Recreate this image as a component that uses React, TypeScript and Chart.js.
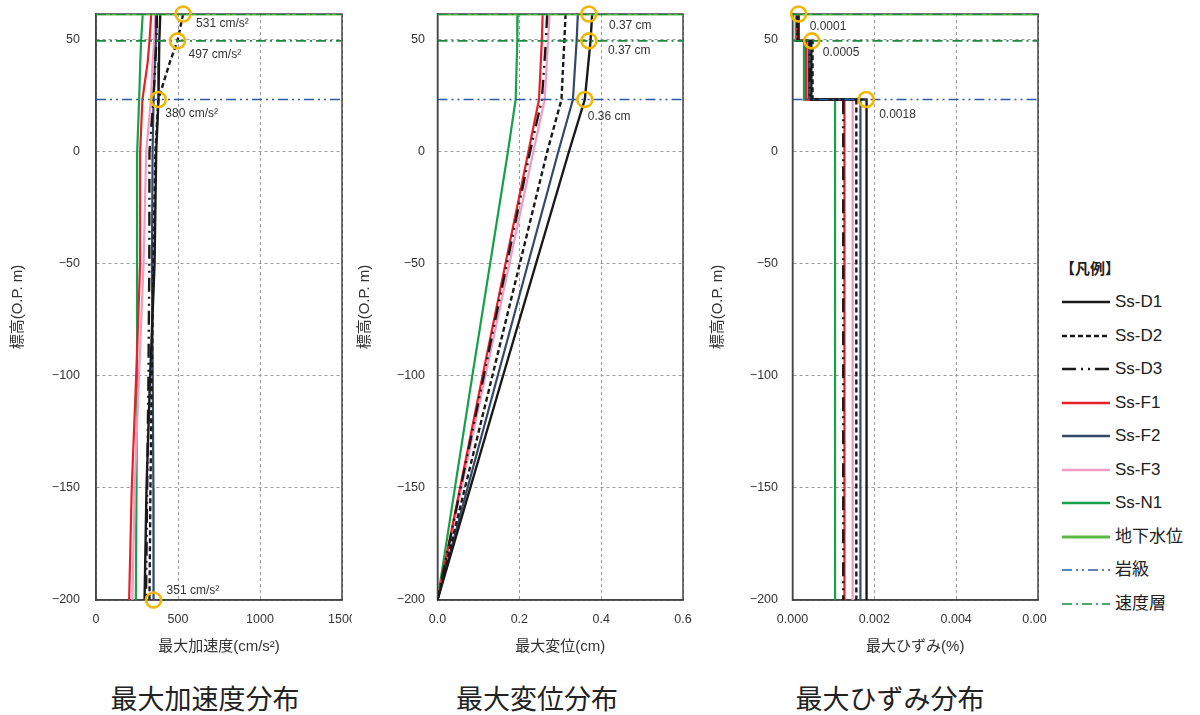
import React, { useEffect, useRef } from "react";
import { Chart, registerables } from "chart.js";

Chart.register(...registerables);

// ---------------- DATA ----------------
const ELEV_MAX = 61.6;
const ELEV_MIN = -200;
const GROUND_WATER = [61.6];
const ROCK_BOUNDARY = [23.4];
const VELOCITY_LAYERS = [61.6, 49.6];

const SERIES_NAMES = ["Ss-D1", "Ss-D2", "Ss-D3", "Ss-F1", "Ss-F2", "Ss-F3", "Ss-N1"];
const REF_NAMES = ["地下水位", "岩級", "速度層"];

// Max acceleration (cm/s2) by elevation
const ACC_ELEV = [61.6, 49.6, 40, 23.4, 0, -50, -100, -150, -200];
const ACC_D1 = [392, 386, 384, 381, 367, 357, 330, 308, 296];
const ACC_D2 = [531, 497, 450, 380, 362, 350, 340, 332, 326];
const ACC_D3 = [372, 368, 362, 350, 326, 325, 320, 312, 305];
const ACC_F1 = [337, 326, 315, 283, 269, 269, 245, 218, 202];
const ACC_F2 = [371, 366, 360, 351, 345, 341, 346, 350, 351];
const ACC_F3 = [363, 355, 345, 335, 306, 290, 262, 236, 222];
const ACC_N1 = [285, 275, 270, 263, 251, 251, 250, 247, 243];

// Max displacement (cm) by elevation
const DISP_ELEV = [61.6, 49.6, 23.4, 0, -100, -200];
const DISP_D1 = [0.378, 0.374, 0.36, 0.321, 0.16, 0];
const DISP_D2 = [0.313, 0.31, 0.303, 0.268, 0.134, 0];
const DISP_D3 = [0.268, 0.265, 0.255, 0.226, 0.113, 0];
const DISP_F1 = [0.257, 0.255, 0.248, 0.222, 0.11, 0];
const DISP_F2 = [0.343, 0.34, 0.331, 0.295, 0.147, 0];
const DISP_F3 = [0.274, 0.27, 0.262, 0.234, 0.117, 0];
const DISP_N1 = [0.196, 0.195, 0.191, 0.172, 0.085, 0];

// Max strain (%) per layer (layer tops), constant down to ELEV_MIN in last layer
const STRAIN_LAYER_TOPS = [61.6, 49.6, 23.4];
const STRAIN_D1 = [0.00015, 0.00046, 0.00181];
const STRAIN_D2 = [0.00013, 0.00049, 0.00156];
const STRAIN_D3 = [0.00012, 0.00042, 0.00124];
const STRAIN_F1 = [0.0001, 0.00033, 0.00127];
const STRAIN_F2 = [0.00011, 0.0004, 0.00166];
const STRAIN_F3 = [0.0001, 0.00036, 0.00147];
const STRAIN_N1 = [0.00008, 0.00028, 0.00104];

// Highlighted maxima
const ACC_MAX_X = [531, 497, 380, 351];
const ACC_MAX_Y = [61.6, 49.6, 23.4, -200];
const ACC_MAX_LABELS = ["531 cm/s²", "497 cm/s²", "380 cm/s²", "351 cm/s²"];
const DISP_MAX_X = [0.37, 0.37, 0.36];
const DISP_MAX_Y = [61.6, 49.6, 23.4];
const DISP_MAX_LABELS = ["0.37 cm", "0.37 cm", "0.36 cm"];
const STRAIN_MAX_X = [0.00015, 0.00047, 0.0018];
const STRAIN_MAX_Y = [61.6, 49.6, 23.4];
const STRAIN_MAX_LABELS = ["0.0001", "0.0005", "0.0018"];

const Y_TICKS_STEP = 50;

// ---------------- STYLES ----------------
const FONT = "'Liberation Sans', 'Noto Sans CJK JP', sans-serif";
const CJK_FONT = "'Noto Sans CJK JP', 'Liberation Sans', sans-serif";
const SERIES_STYLES = [
  { color: "#1a1a1a", width: 2.4, dash: [] as number[] },
  { color: "#1a1a1a", width: 2.4, dash: [5, 3] },
  { color: "#1a1a1a", width: 2.4, dash: [14, 5, 2, 5, 2, 5] },
  { color: "#e8202a", width: 2.2, dash: [] as number[] },
  { color: "#34496a", width: 2.2, dash: [] as number[] },
  { color: "#f29ac2", width: 2.2, dash: [] as number[] },
  { color: "#17a04a", width: 2.2, dash: [] as number[] },
];
const REF_STYLES = [
  { color: "#5cb946", width: 3, dash: [] as number[] },
  { color: "#2b5aa8", width: 1.5, dash: [10, 4, 2, 4, 2, 4] },
  { color: "#1b8a3e", width: 1.8, dash: [10, 4, 2, 4] },
];
const MARK_COLOR = "#f2b705";

type Ann = { x: number; y: number; label: string; dx: number; dy: number };

function buildAnn(xs: number[], ys: number[], labels: string[], offsets: number[][]): Ann[] {
  return xs.map((x, i) => ({ x, y: ys[i], label: labels[i], dx: offsets[i][0], dy: offsets[i][1] }));
}

function profileDatasets(elev: number[], series: number[][]) {
  return series.map((vals, i) => ({
    label: SERIES_NAMES[i],
    data: vals.map((v, j) => ({ x: v, y: elev[j] })),
    borderColor: SERIES_STYLES[i].color,
    borderWidth: SERIES_STYLES[i].width,
    borderDash: SERIES_STYLES[i].dash,
    pointRadius: 0,
    tension: 0,
    fill: false,
  }));
}

function stepDatasets(tops: number[], series: number[][]) {
  return series.map((vals, i) => ({
    label: SERIES_NAMES[i],
    data: [
      ...vals.map((v, j) => ({ x: v, y: tops[j] })),
      { x: vals[vals.length - 1], y: ELEV_MIN },
    ],
    borderColor: SERIES_STYLES[i].color,
    borderWidth: SERIES_STYLES[i].width,
    borderDash: SERIES_STYLES[i].dash,
    pointRadius: 0,
    stepped: "after",
    fill: false,
  }));
}

function refDatasets(xMin: number, xMax: number) {
  const groups = [GROUND_WATER, ROCK_BOUNDARY, VELOCITY_LAYERS];
  const out: any[] = [];
  groups.forEach((levels, g) => {
    levels.forEach((y) => {
      out.push({
        label: REF_NAMES[g],
        data: [{ x: xMin, y }, { x: xMax, y }],
        borderColor: REF_STYLES[g].color,
        borderWidth: REF_STYLES[g].width,
        borderDash: REF_STYLES[g].dash,
        pointRadius: 0,
        fill: false,
      });
    });
  });
  return out.reverse();
}

type PanelDef = {
  left: number;
  canvasW: number;
  clipW: number;
  yAxisW: number;
  chartRight: number;
  yTickGap: number;
  yTitleOffset: number;
  xMin: number;
  xMax: number;
  xStep: number;
  xDecimals: number;
  xTitle: string;
  title: string;
  titleCenter: number;
  datasets: any[];
  ann: Ann[];
};

const CANVAS_H = 665;
const PAD_TOP = 14;
const X_AXIS_H = 65;

const PANELS: PanelDef[] = [
  {
    left: 0, canvasW: 380, clipW: 352, yAxisW: 96, chartRight: 342, yTickGap: 16, yTitleOffset: 18,
    xMin: 0, xMax: 1500, xStep: 500, xDecimals: 0,
    xTitle: "最大加速度(cm/s²)", title: "最大加速度分布", titleCenter: 205,
    datasets: profileDatasets(ACC_ELEV, [ACC_D1, ACC_D2, ACC_D3, ACC_F1, ACC_F2, ACC_F3, ACC_N1]),
    ann: buildAnn(ACC_MAX_X, ACC_MAX_Y, ACC_MAX_LABELS, [[13, 10], [11, 14], [7, 14], [13, -9]]),
  },
  {
    left: 350, canvasW: 360, clipW: 360, yAxisW: 87.5, chartRight: 683, yTickGap: 12.5, yTitleOffset: 15,
    xMin: 0, xMax: 0.6, xStep: 0.2, xDecimals: 1,
    xTitle: "最大変位(cm)", title: "最大変位分布", titleCenter: 537,
    datasets: profileDatasets(DISP_ELEV, [DISP_D1, DISP_D2, DISP_D3, DISP_F1, DISP_F2, DISP_F3, DISP_N1]),
    ann: buildAnn(DISP_MAX_X, DISP_MAX_Y, DISP_MAX_LABELS, [[20, 12], [19, 10], [3, 17]]),
  },
  {
    left: 700, canvasW: 380, clipW: 347, yAxisW: 92.5, chartRight: 1038, yTickGap: 14.5, yTitleOffset: 18,
    xMin: 0, xMax: 0.006, xStep: 0.002, xDecimals: 3,
    xTitle: "最大ひずみ(%)", title: "最大ひずみ分布", titleCenter: 890,
    datasets: stepDatasets(STRAIN_LAYER_TOPS, [STRAIN_D1, STRAIN_D2, STRAIN_D3, STRAIN_F1, STRAIN_F2, STRAIN_F3, STRAIN_N1]),
    ann: buildAnn(STRAIN_MAX_X, STRAIN_MAX_Y, STRAIN_MAX_LABELS, [[11, 13], [11, 12], [13, 15]]),
  },
];

const framePlugin = {
  id: "frame",
  beforeDatasetsDraw(chart: any) {
    const { ctx, chartArea } = chart;
    ctx.save();
    ctx.strokeStyle = "#444";
    ctx.lineWidth = 1.5;
    ctx.strokeRect(chartArea.left, chartArea.top, chartArea.right - chartArea.left, chartArea.bottom - chartArea.top);
    ctx.restore();
  },
};

function PanelChart({ def }: { def: PanelDef }) {
  const ref = useRef<HTMLCanvasElement | null>(null);
  useEffect(() => {
    if (!ref.current) return;
    const ann = def.ann;
    const labelPlugin = {
      id: "annLabels",
      afterDatasetsDraw(chart: any) {
        const { ctx, scales } = chart;
        ctx.save();
        ctx.font = `12px ${FONT}`;
        ctx.fillStyle = "#333";
        ctx.textAlign = "left";
        ctx.textBaseline = "middle";
        ann.forEach((a) => {
          const px = scales.x.getPixelForValue(a.x);
          const py = scales.y.getPixelForValue(a.y);
          ctx.fillText(a.label, px + a.dx, py + a.dy);
        });
        ctx.restore();
      },
    };
    const markers = {
      label: "max",
      data: ann.map((a) => ({ x: a.x, y: a.y })),
      showLine: false,
      pointRadius: 7.5,
      pointHoverRadius: 7.5,
      pointBorderWidth: 2.6,
      pointBorderColor: MARK_COLOR,
      pointBackgroundColor: "rgba(0,0,0,0)",
      clip: false,
    };
    const padRight = def.canvasW - (def.chartRight - def.left);
    const chart = new Chart(ref.current, {
      type: "line",
      data: { datasets: [markers, ...refDatasets(def.xMin, def.xMax), ...def.datasets] as any },
      options: {
        animation: false,
        responsive: false,
        events: [],
        layout: { padding: { left: 0, top: PAD_TOP, right: padRight, bottom: 0 } },
        plugins: { legend: { display: false }, tooltip: { enabled: false } },
        scales: {
          x: {
            type: "linear",
            min: def.xMin,
            max: def.xMax,
            afterFit: (s: any) => { s.height = X_AXIS_H; },
            ticks: {
              stepSize: def.xStep,
              includeBounds: false,
              padding: 0,
              color: "#333",
              font: { family: FONT, size: 12.5 },
              callback: (v: any) => Number(v).toFixed(def.xDecimals),
            },
            grid: { color: "#9a9a9a", lineWidth: 1, drawTicks: true, tickLength: 12.5, tickColor: "rgba(0,0,0,0)" },
            border: { display: true, color: "#444", width: 1.5, dash: [3, 3] },
            title: { display: true, text: def.xTitle, color: "#333", font: { family: FONT, size: 15 }, padding: { top: 0, bottom: 9 } },
          },
          y: {
            type: "linear",
            min: ELEV_MIN,
            max: ELEV_MAX,
            afterFit: (s: any) => { s.width = def.yAxisW; },
            ticks: {
              stepSize: Y_TICKS_STEP,
              includeBounds: false,
              padding: 0,
              color: "#333",
              font: { family: FONT, size: 12.5 },
              callback: (v: any) => (Number(v) < 0 ? "\u2212" + Math.abs(Number(v)) : String(v)),
            },
            grid: { color: "#9a9a9a", lineWidth: 1, drawTicks: true, tickLength: def.yTickGap, tickColor: "rgba(0,0,0,0)" },
            border: { display: true, color: "#444", width: 1.5, dash: [3, 3] },
            title: { display: true, text: "標高(O.P. m)", color: "#333", font: { family: FONT, size: 15 }, padding: { top: def.yTitleOffset - 9, bottom: 0 } },
          },
        },
      },
      plugins: [framePlugin, labelPlugin],
    });
    return () => chart.destroy();
  }, [def]);
  return (
    <div style={{ position: "absolute", left: def.left, top: 0, width: def.clipW, height: CANVAS_H, overflow: "hidden" }}>
      <canvas ref={ref} width={def.canvasW} height={CANVAS_H} style={{ width: def.canvasW, height: CANVAS_H, display: "block" }} />
    </div>
  );
}

const LEGEND_ROWS = [
  ...SERIES_NAMES.map((n, i) => ({ name: n, ...SERIES_STYLES[i], width: 2.6 })),
  ...REF_NAMES.map((n, i) => ({ name: n, ...REF_STYLES[i], width: i === 0 ? 3 : 1.5 })),
];

export default function App() {
  return (
    <div style={{ position: "absolute", left: 0, top: 0, width: 1200, height: 715, background: "#fff", overflow: "hidden" }}>
      {PANELS.map((p, i) => (
        <PanelChart key={i} def={p} />
      ))}
      {PANELS.map((p, i) => (
        <div key={"t" + i} style={{ position: "absolute", left: p.titleCenter - 150, width: 300, top: 680, textAlign: "center", fontFamily: CJK_FONT, fontSize: 27, lineHeight: "36px", color: "#222" }}>
          {p.title}
        </div>
      ))}
      <div style={{ position: "absolute", left: 1060, top: 258, fontFamily: CJK_FONT, fontSize: 15, fontWeight: 700, color: "#222", lineHeight: "20px" }}>【凡例】</div>
      {LEGEND_ROWS.map((r, i) => (
        <div key={"l" + i} style={{ position: "absolute", left: 1062, top: 302 + i * 33.5 - 12, height: 24, display: "flex", alignItems: "center" }}>
          <svg width={48} height={8} style={{ display: "block" }}>
            <line x1={0} y1={4} x2={48} y2={4} stroke={r.color} strokeWidth={r.width} strokeDasharray={r.dash.length ? r.dash.join(" ") : undefined} />
          </svg>
          <span style={{ marginLeft: 5, fontFamily: FONT, fontSize: 17, color: "#222", lineHeight: "24px" }}>{r.name}</span>
        </div>
      ))}
    </div>
  );
}
